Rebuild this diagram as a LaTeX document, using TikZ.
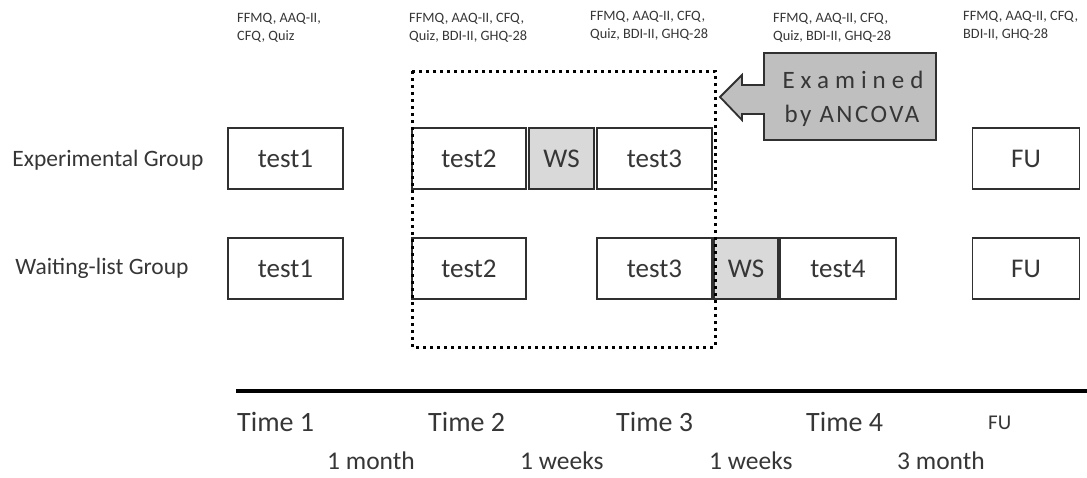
\documentclass[tikz,border=0pt]{standalone}
\usepackage{fontspec}
\setmainfont{Carlito}
\definecolor{txt}{HTML}{363636}
\definecolor{boxline}{HTML}{303030}
\definecolor{wsgray}{HTML}{D9D9D9}
\definecolor{callgray}{HTML}{BFBFBF}
\begin{document}
\begin{tikzpicture}[x=1pt,y=-1pt,
  box/.style={draw=boxline, line width=1.8pt, fill=white, text=txt,
    font=\fontsize{27}{30}\selectfont, inner sep=0pt, minimum height=61pt},
  wsbox/.style={box, fill=wsgray},
  grouplbl/.style={text=txt, font=\fontsize{23.5}{26}\selectfont, inner sep=0pt},
  toplbl/.style={text=txt, font=\fontsize{14.3}{18}\selectfont, align=left, anchor=north west, inner sep=0pt},
  timelbl/.style={text=txt, font=\fontsize{28}{30}\selectfont, anchor=base west, inner sep=0pt},
  intlbl/.style={text=txt, font=\fontsize{25.5}{28}\selectfont, anchor=base west, inner sep=0pt},
  dottedbox/.style={draw=black, line width=3pt, dash pattern=on 3pt off 4pt},
  callout/.style={draw=boxline, line width=1.8pt, fill=callgray}]
\useasboundingbox (0,0) rectangle (1087,477);

% top measure labels
\node[toplbl] (m1) at (237,13) {FFMQ, AAQ-II,\\CFQ, Quiz};
\node[toplbl] (m2) at (409,13) {FFMQ, AAQ-II, CFQ,\\Quiz, BDI-II, GHQ-28};
\node[toplbl] (m3) at (590,11) {FFMQ, AAQ-II, CFQ,\\Quiz, BDI-II, GHQ-28};
\node[toplbl] (m4) at (773,13) {FFMQ, AAQ-II, CFQ,\\Quiz, BDI-II, GHQ-28};
\node[toplbl] (m5) at (963,11) {FFMQ, AAQ-II, CFQ,\\BDI-II, GHQ-28};

% group labels
\node[grouplbl] (g1) at (108,160) {Experimental Group};
\node[grouplbl] (g2) at (102,268) {Waiting-list Group};

% row 1
\node[box, minimum width=115pt] (e1) at (285.5,158.5) {test1};
\node[box, minimum width=114pt] (e2) at (469,158.5) {test2};
\node[wsbox, minimum width=65pt] (ews) at (561.5,158.5) {WS};
\node[box, minimum width=115pt] (e3) at (654.5,158.5) {test3};
\node[box, minimum width=107pt] (efu) at (1026,158.5) {FU};

% row 2
\node[box, minimum width=115pt] (w1) at (285.5,268.5) {test1};
\node[box, minimum width=114pt] (w2) at (469,268.5) {test2};
\node[box, minimum width=115pt] (w3) at (654.5,268.5) {test3};
\node[wsbox, minimum width=64pt] (wws) at (746,268.5) {WS};
\node[box, minimum width=116pt] (w4) at (838,268.5) {test4};
\node[box, minimum width=107pt] (wfu) at (1026,268.5) {FU};

% dotted frame
\coordinate (d1) at (412,71);
\coordinate (d2) at (715,347);
\draw[dottedbox] (d1) rectangle (d2);

% callout arrow
\draw[callout] (764,53) -- (936,53) -- (936,140) -- (764,140) -- (764,114)
  -- (742,114) -- (742,120) -- (720,97) -- (742,75) -- (742,85) -- (764,85) -- cycle;
\node[text=txt, font=\fontsize{25}{26}\selectfont\addfontfeature{LetterSpace=24}, inner sep=0pt] (c1) at (853,80) {Examined};
\node[text=txt, font=\fontsize{25}{26}\selectfont\addfontfeature{LetterSpace=10}, inner sep=0pt] (c2) at (852,116) {by ANCOVA};

% timeline
\coordinate (t0) at (236,391);
\coordinate (t1) at (1087,391);
\draw[line width=4pt] (t0) -- (t1);

\node[timelbl] (T1) at (237,431) {Time 1};
\node[timelbl] (T2) at (428,431) {Time 2};
\node[timelbl] (T3) at (616,431) {Time 3};
\node[timelbl] (T4) at (806,431) {Time 4};
\node[text=txt, font=\fontsize{21}{24}\selectfont, anchor=base west, inner sep=0pt] (TF) at (988,429) {FU};

\node[intlbl] (i1) at (327,469) {1 month};
\node[intlbl] (i2) at (520,469) {1 weeks};
\node[intlbl] (i3) at (709,469) {1 weeks};
\node[intlbl] (i4) at (897,469) {3 month};
\end{tikzpicture}
\end{document}
